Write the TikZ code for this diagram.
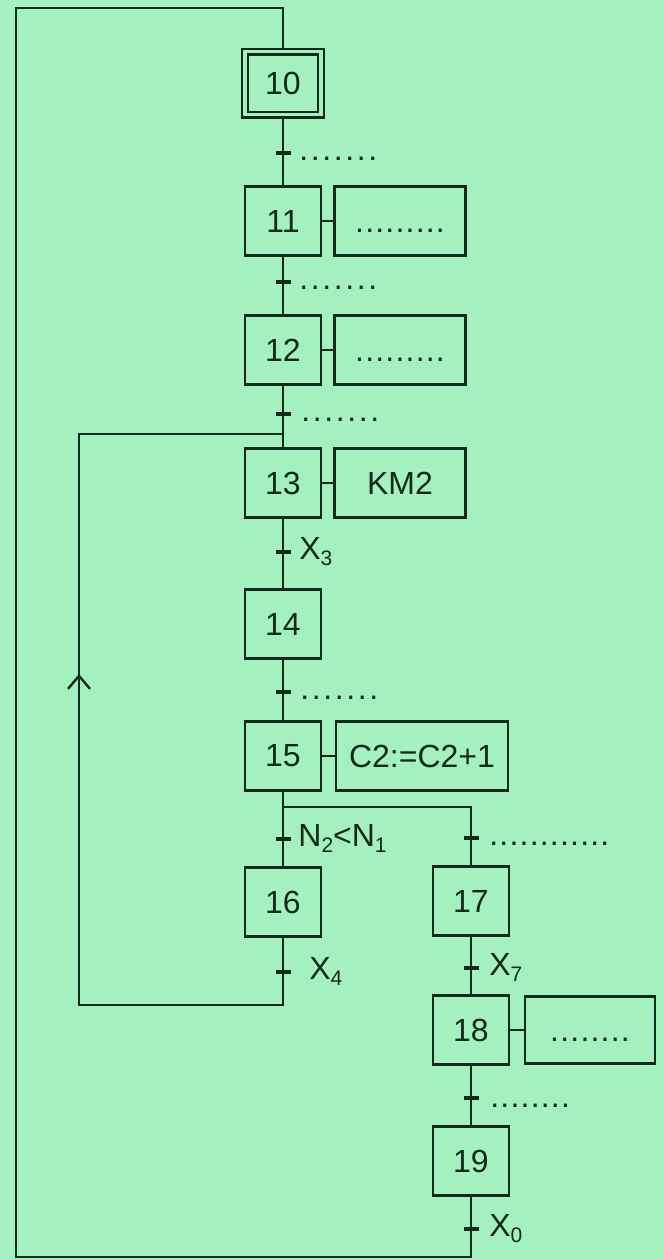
\documentclass[tikz,border=0pt]{standalone}
\usepackage{fontspec}
\setmainfont{Liberation Sans}
\usetikzlibrary{arrows.meta,calc}
\definecolor{bg}{RGB}{164,240,190}
\definecolor{ink}{RGB}{20,42,28}
\newcommand\dta{.\kern1.3pt}
\newcommand\dtb{.\kern0.6pt}
\newcommand\sbs[1]{\raisebox{-3pt}{\fontsize{10.5}{10.5}\selectfont #1}}
\begin{document}
\begin{tikzpicture}[x=0.5pt,y=-0.5pt,
  every node/.style={font=\fontsize{16}{19}\selectfont, text=ink},
  line/.style={draw=ink, line width=1.2pt},
  stepbox/.style={draw=ink, line width=1.3pt, minimum width=38pt, minimum height=34.5pt, inner sep=0pt},
  initbox/.style={draw=ink, line width=1.1pt, double=bg, double distance=1.8pt, minimum width=38pt, minimum height=31.5pt, inner sep=0pt, outer sep=1.5pt},
  actbox/.style={draw=ink, line width=1.3pt, minimum width=65.5pt, minimum height=34.5pt, inner sep=0pt},
  trans/.style={fill=ink, minimum width=7.5pt, minimum height=2pt, inner sep=0pt, outer sep=0pt},
  tlab/.style={anchor=base west, inner sep=0pt},
  barb/.style={draw=ink, line width=1.2pt, -{Straight Barb[length=6.5pt,width=11pt]}}
]
\useasboundingbox (0,0) rectangle (664,1259);
\fill[bg] (0,0) rectangle (664,1259);

% steps
\node[initbox] (s10) at (283,83) {10};
\node[stepbox] (s11) at (283,221) {11};
\node[stepbox] (s12) at (283,350) {12};
\node[stepbox] (s13) at (283,483) {13};
\node[stepbox] (s14) at (283,624) {14};
\node[stepbox] (s15) at (283,756) {15};
\node[stepbox] (s16) at (283,902) {16};
\node[stepbox] (s17) at (471,901) {17};
\node[stepbox] (s18) at (471,1030) {18};
\node[stepbox] (s19) at (471,1161) {19};

% actions
\node[actbox] (a11) at (400,221) {\vphantom{0}\dtb\dtb\dtb\dtb\dtb\dtb\dtb\dtb.};
\node[actbox] (a12) at (400,350) {\vphantom{0}\dtb\dtb\dtb\dtb\dtb\dtb\dtb\dtb.};
\node[actbox] (a13) at (400,483) {KM2};
\node[actbox, minimum width=86pt] (a15) at (422,756) {C2:=C2+1};
\node[actbox, minimum width=65pt, minimum height=33.5pt] (a18) at (590,1030) {\vphantom{0}\dtb\dtb\dtb\dtb\dtb\dtb\dtb.};

% transitions
\node[trans] (t10) at (283,153) {};
\node[trans] (t11) at (283,282) {};
\node[trans] (t12) at (283,414) {};
\node[trans] (t13) at (283,552) {};
\node[trans] (t14) at (283,692) {};
\node[trans] (t15a) at (283,839) {};
\node[trans] (t15b) at (471,838) {};
\node[trans] (t16) at (283,972) {};
\node[trans] (t17) at (471,968) {};
\node[trans] (t18) at (471,1098) {};
\node[trans] (t19) at (471,1229) {};

% transition labels
\node[tlab] (l10) at ($(t10)+(16,7)$) {\dta\dta\dta\dta\dta\dta.};
\node[tlab] (l11) at ($(t11)+(16,7)$) {\dta\dta\dta\dta\dta\dta.};
\node[tlab] (l12) at ($(t12)+(18,7)$) {\dta\dta\dta\dta\dta\dta.};
\node[tlab] (l13) at ($(t13)+(16,7)$) {X\sbs{3}};
\node[tlab] (l14) at ($(t14)+(17,7)$) {\dta\dta\dta\dta\dta\dta.};
\node[tlab] (l15a) at ($(t15a)+(15,7)$) {N\sbs{2}<N\sbs{1}};
\node[tlab] (l15b) at ($(t15b)+(18,7)$) {\dtb\dtb\dtb\dtb\dtb\dtb\dtb\dtb\dtb\dtb\dtb.};
\node[tlab] (l16) at ($(t16)+(26,7)$) {X\sbs{4}};
\node[tlab] (l17) at ($(t17)+(18,7)$) {X\sbs{7}};
\node[tlab] (l18) at ($(t18)+(19,9)$) {\dtb\dtb\dtb\dtb\dtb\dtb\dtb.};
\node[tlab] (l19) at ($(t19)+(18,7)$) {X\sbs{0}};

% coordinates for loops
\coordinate (jn) at (283,434);
\coordinate (d1) at (283,807);
\coordinate (d2) at (471,807);
\coordinate (ib) at (79,1005);
\coordinate (it) at (79,434);
\coordinate (ia1) at (79,720);
\coordinate (ia2) at (79,674);
\coordinate (ob) at (16,1257);
\coordinate (ot) at (16,8);

% main sequence
\draw[line] (s10) -- (t10) -- (s11);
\draw[line] (s11) -- (t11) -- (s12);
\draw[line] (s12) -- (t12) -- (s13);
\draw[line] (s13) -- (t13) -- (s14);
\draw[line] (s14) -- (t14) -- (s15);
\draw[line] (s15) -- (t15a) -- (s16);
\draw[line] (d1) -- (d2) -- (t15b) -- (s17);
\draw[line] (s17) -- (t17) -- (s18);
\draw[line] (s18) -- (t18) -- (s19);
\draw[line] (s19) -- (t19);

% action links
\draw[line] (s11) -- (a11);
\draw[line] (s12) -- (a12);
\draw[line] (s13) -- (a13);
\draw[line] (s15) -- (a15);
\draw[line] (s18) -- (a18);

% loops
\draw[line] (s16) -- (t16);
\draw[line] (t16.south) |- (ib) -- (it) -- (jn);
\draw[barb] (ia1) -- (ia2);
\draw[line] (t19.south) |- (ob) -- (ot) -| (s10.north);
\end{tikzpicture}
\end{document}
